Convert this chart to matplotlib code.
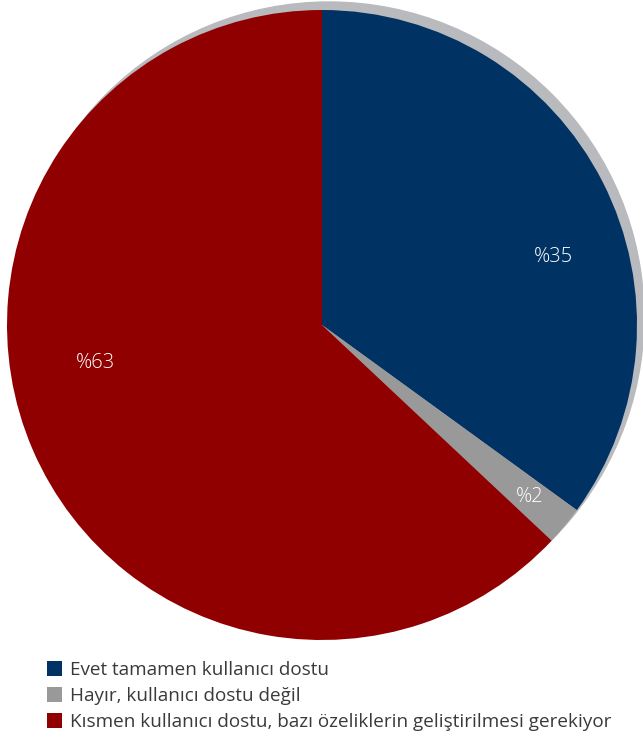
import numpy as np
import matplotlib.pyplot as plt
from matplotlib.patches import Circle

plt.rcParams['font.family'] = ['Open Sans', 'DejaVu Sans']

# veriler
labels = ["Evet tamamen kullanıcı dostu",
          "Hayır, kullanıcı dostu değil",
          "Kısmen kullanıcı dostu, bazı özeliklerin geliştirilmesi gerekiyor"]
values = [35, 2, 63]
pct_text = ["%35", "%2", "%63"]
colors = ["#003263", "#999999", "#910000"]

W, H = 643, 745
fig = plt.figure(figsize=(W / 100, H / 100), dpi=100)
ax = fig.add_axes([0, 0, 1, 1])

cx, cy, r = 322, H - 325, 315

# gölge
ax.add_patch(Circle((cx + 7, cy + 8), r, color="#b9babe", zorder=0))

wedges, _ = ax.pie(values, colors=colors, startangle=90, counterclock=False,
                   center=(cx, cy), radius=r, frame=True,
                   wedgeprops=dict(linewidth=0))
ax.set_xlim(0, W)
ax.set_ylim(0, H)
ax.set_aspect('equal')
ax.axis('off')

# etiketler (Excel konumlari)
lab_ang = [16.5, -39.7, 189.5]
lab_rad = [0.765, 0.855, 0.73]
for t, a, f in zip(pct_text, lab_ang, lab_rad):
    x = cx + f * r * np.cos(np.radians(a))
    y = cy + f * r * np.sin(np.radians(a))
    ax.text(x, y, t, color="white", fontsize=14.5, ha="center", va="center",
            fontweight="light")

leg = ax.legend(wedges, labels, loc="upper left", bbox_to_anchor=(47 / W, 1 - 661 / H),
                frameon=False, fontsize=13.6, handlelength=0.8, handleheight=0.8,
                handletextpad=0.4, labelspacing=0.42, borderpad=0, borderaxespad=0)
for t in leg.get_texts():
    t.set_color("#3a3a3a")

fig.savefig("out.png", dpi=100)
